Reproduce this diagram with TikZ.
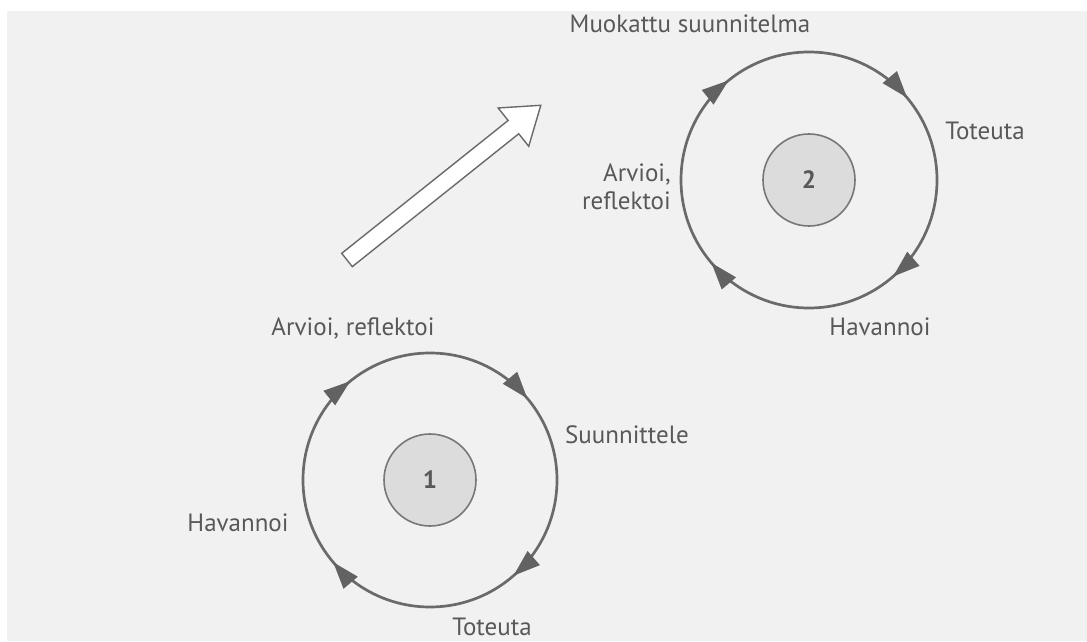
\documentclass[tikz,border=0pt]{standalone}
\usepackage{fontspec}
\setmainfont{PT Sans}
\usetikzlibrary{arrows.meta,decorations.markings}
\definecolor{ringc}{HTML}{6A6A6A}
\definecolor{tipc}{HTML}{626262}
\definecolor{txtc}{HTML}{585858}
\definecolor{hubfill}{HTML}{DCDCDC}
\definecolor{hubline}{HTML}{777777}
\definecolor{bgc}{HTML}{F1F1F1}
\tikzset{
  ring/.style={draw=ringc, line width=2.7pt,
    postaction={decorate},
    decoration={markings,
      mark=at position 0.142 with {\arrow[tipc]{Triangle[length=27pt,width=18pt]}},
      mark=at position 0.389 with {\arrow[tipc]{Triangle[length=27pt,width=18pt]}},
      mark=at position 0.636 with {\arrow[tipc]{Triangle[length=27pt,width=18pt]}},
      mark=at position 0.888 with {\arrow[tipc]{Triangle[length=27pt,width=18pt]}}}},
  hub/.style={circle, draw=hubline, line width=1.6pt, fill=hubfill,
    minimum size=92pt, inner sep=0pt, text=txtc,
    font=\bfseries\fontsize{25}{25}\selectfont},
  lbl/.style={text=txtc, inner sep=0pt, font=\fontsize{25}{28}\selectfont},
  hollow/.style={draw=ringc, line width=1.4pt, fill=white, line join=miter}
}
\begin{document}
\begin{tikzpicture}[x=1pt,y=1pt]
  \useasboundingbox (0,0) rectangle (1087,641);
  \fill[bgc] (7,0) rectangle (1087,630);

  % cycle 1
  \node[hub] (h1) at (430,161) {1};
  \draw[ring] (h1.center) ++(180:127) arc[start angle=180, end angle=-180, radius=127];

  % cycle 2
  \node[hub] (h2) at (809,461) {2};
  \draw[ring] (h2.center) ++(180:128) arc[start angle=180, end angle=-180, radius=128];

  % hollow arrow
  \begin{scope}[shift={(347,381)}, rotate=38.6]
    \draw[hollow] (0,-8.5) -- (213,-8.5) -- (213,-24.5) -- (248,0) -- (213,24.5) -- (213,8.5) -- (0,8.5) -- cycle;
  \end{scope}

  % labels
  \node[lbl, anchor=base] (muok) at (690,608) {Muokattu suunnitelma};
  \node[lbl, anchor=base] (tot2) at (985,501) {Toteuta};
  \node[lbl, anchor=base east, align=right] (arv2) at (671,431) {Arvioi,\\reflektoi};
  \node[lbl, anchor=base] (hav2) at (880,306) {Havannoi};
  \node[lbl, anchor=base] (arv1) at (353,306) {Arvioi, reflektoi};
  \node[lbl, anchor=base] (suu1) at (627,198) {Suunnittele};
  \node[lbl, anchor=base] (hav1) at (238,110) {Havannoi};
  \node[lbl, anchor=base] (tot1) at (492,6) {Toteuta};
\end{tikzpicture}
\end{document}
